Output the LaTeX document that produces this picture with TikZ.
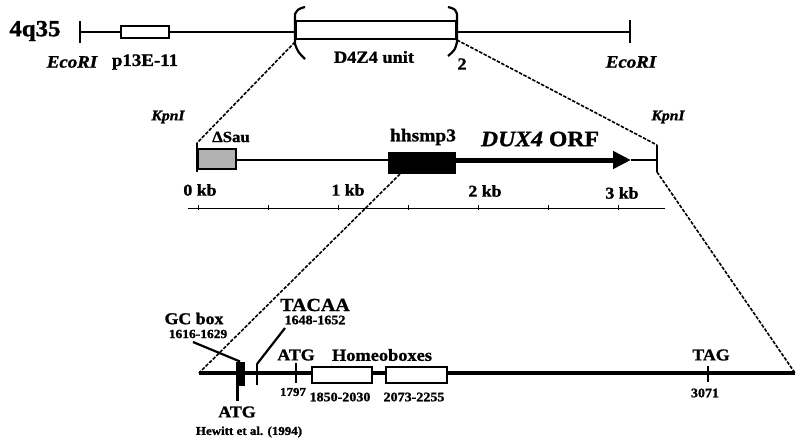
\documentclass[tikz,border=0pt]{standalone}
\usepackage{fontspec}
\setmainfont{Liberation Serif}[FakeStretch=1.08,BoldFeatures={FakeBold=1.2},BoldItalicFeatures={FakeBold=1.2}]
\usetikzlibrary{arrows.meta}
\newcommand{\fs}[1]{\fontsize{#1}{#1}\selectfont}
\begin{document}
\begin{tikzpicture}[x=1pt,y=-1pt,
  lbl/.style={inner sep=0pt,font=\bfseries},
  ilbl/.style={inner sep=0pt,font=\bfseries\itshape},
  dna/.style={line width=2.5pt},
  tickmark/.style={line width=2pt},
  zoomline/.style={line width=1.6pt,dash pattern=on 3.5pt off 1.5pt},
  openbox/.style={draw,fill=white,line width=2pt,inner sep=0pt},
  blackbox/.style={draw,fill=black,line width=1pt,inner sep=0pt}]
\useasboundingbox (0,0) rectangle (797,445);

% ---------- top row: 4q35 ----------
\coordinate (eL) at (80,32);
\coordinate (bL) at (295,32);
\coordinate (bR) at (457,32);
\coordinate (eR) at (630,32);
\node[openbox,minimum width=48pt,minimum height=12pt] (p13) at (145,32) {};
\node[draw,line width=1.5pt,inner sep=0pt,minimum width=160pt,minimum height=18pt] (d4z4) at (376,30) {};
\draw[dna] (eL) -- (p13.west);
\draw[dna] (p13.east) -- (bL);
\draw[dna] (bR) -- (eR);
\draw[tickmark] (80,21) -- (80,43);
\draw[tickmark] (630,20) -- (630,43);
% brackets
\draw[line width=2.2pt] (305,7) .. controls (298,9) .. (295,14) -- (295,44) .. controls (298,52) .. (305,59);
\draw[line width=2.2pt] (448,7) .. controls (455,9) .. (457,14) -- (457,42) .. controls (455,50) .. (448,56);
\coordinate (bLlow) at (295,42);
\coordinate (bRlow) at (457,40);

\node[lbl] (t4q) at (35,31) {\fs{23}4q35};
\node[ilbl] (ecoL) at (72,62) {\fs{17.5}EcoRI};
\node[lbl] (p13l) at (145,62) {\fs{17.5}p13E-11};
\node[lbl] (d4l) at (374,57) {\fs{17}D4Z4 unit};
\node[lbl] (two) at (462,64) {\fs{17}2};
\node[ilbl] (ecoR) at (631,62) {\fs{17.5}EcoRI};

% ---------- middle row ----------
\coordinate (kL) at (197,143);
\coordinate (kLb) at (197,172);
\coordinate (kR) at (657,145);
\coordinate (kRb) at (657,172);
\draw[tickmark] (kL) -- (kLb);
\draw[tickmark] (kR) -- (kRb);
\node[draw,fill=black!30,line width=2pt,inner sep=0pt,minimum width=38pt,minimum height=20pt,anchor=west] (sau) at (197,159) {};
\node[blackbox,minimum width=67pt,minimum height=21pt] (hh) at (421.5,162.5) {};
\draw[dna] (sau.east |- 0,160) -- (hh.west |- 0,160);
\coordinate (orfEnd) at (631,160);
\draw[line width=5pt,-{Triangle[length=18pt,width=17pt]}] (hh.east |- 0,160) -- (orfEnd);
\draw[dna] (orfEnd) -- (kR |- 0,160);

\node[ilbl] (kpnL) at (168,117) {\fs{14.5}KpnI};
\node[ilbl] (kpnR) at (668,117) {\fs{14.5}KpnI};
\node[lbl] (saul) at (231,137) {\fs{15.5}ΔSau};
\node[lbl] (hhl) at (423,137) {\fs{18}hhsmp3};
\node[lbl] (orfl) at (540,139) {\fs{22}\textit{DUX4} ORF};

% scale
\draw[line width=0.9pt] (188,208) -- (665,208);
\foreach \i in {0,...,6} {\draw[line width=0.9pt] (198+70*\i,205) -- (198+70*\i,210);}
\node[lbl] (k0) at (200,190) {\fs{16.5}0 kb};
\node[lbl] (k1) at (348,190) {\fs{16.5}1 kb};
\node[lbl] (k2) at (485,191) {\fs{16.5}2 kb};
\node[lbl] (k3) at (622,193) {\fs{16.5}3 kb};

% ---------- bottom row ----------
\coordinate (bS) at (199,373);
\coordinate (bE) at (795,373);
\draw[line width=3.2pt] (bS) -- (bE);
\coordinate (hhb) at (400,174);

% zoom lines
\draw[zoomline] (bLlow) -- (kL);
\draw[zoomline] (bRlow) -- (kR);
\draw[zoomline] (hhb) -- (bS);
\draw[zoomline] (kRb) -- (bE);

% GC box and ATG (Hewitt)
\node[blackbox,minimum width=8pt,minimum height=23pt] (gc) at (240,373.5) {};
\draw[line width=3pt] (237,373) -- (237,401);
\draw[line width=2.2pt] (193,342) -- (gc.north);
% TACAA
\draw[tickmark] (257,364) -- (257,385);
\draw[line width=2.2pt] (257,364) -- (285,328);
% ATG 1797
\draw[tickmark] (296,363) -- (296,383);
% homeoboxes
\node[openbox,minimum width=60pt,minimum height=16pt] (hb1) at (342,375) {};
\node[openbox,minimum width=61pt,minimum height=16pt] (hb2) at (416.5,375) {};
% TAG
\draw[tickmark] (708,366) -- (708,382);

\node[lbl] (gcl) at (194,318.5) {\fs{16.5}GC box};
\node[lbl] (gcn) at (198,334) {\fs{12.5}1616-1629};
\node[lbl] (tacl) at (315,305) {\fs{18.5}TACAA};
\node[lbl] (tacn) at (315,320) {\fs{13}1648-1652};
\node[lbl] (atg1) at (296,355) {\fs{16.5}ATG};
\node[lbl] (n1797) at (293,392) {\fs{12}1797};
\node[lbl] (hbl) at (382,355) {\fs{17}Homeoboxes};
\node[lbl] (n1850) at (340,397) {\fs{13}1850-2030};
\node[lbl] (n2073) at (414,397) {\fs{13}2073-2255};
\node[lbl] (atg2) at (237,412) {\fs{16.5}ATG};
\node[lbl] (hew) at (249,432) {\fs{12}Hewitt et al. (1994)};
\node[lbl] (tag) at (711,355) {\fs{16.5}TAG};
\node[lbl] (n3071) at (705,393) {\fs{13}3071};
\end{tikzpicture}
\end{document}
